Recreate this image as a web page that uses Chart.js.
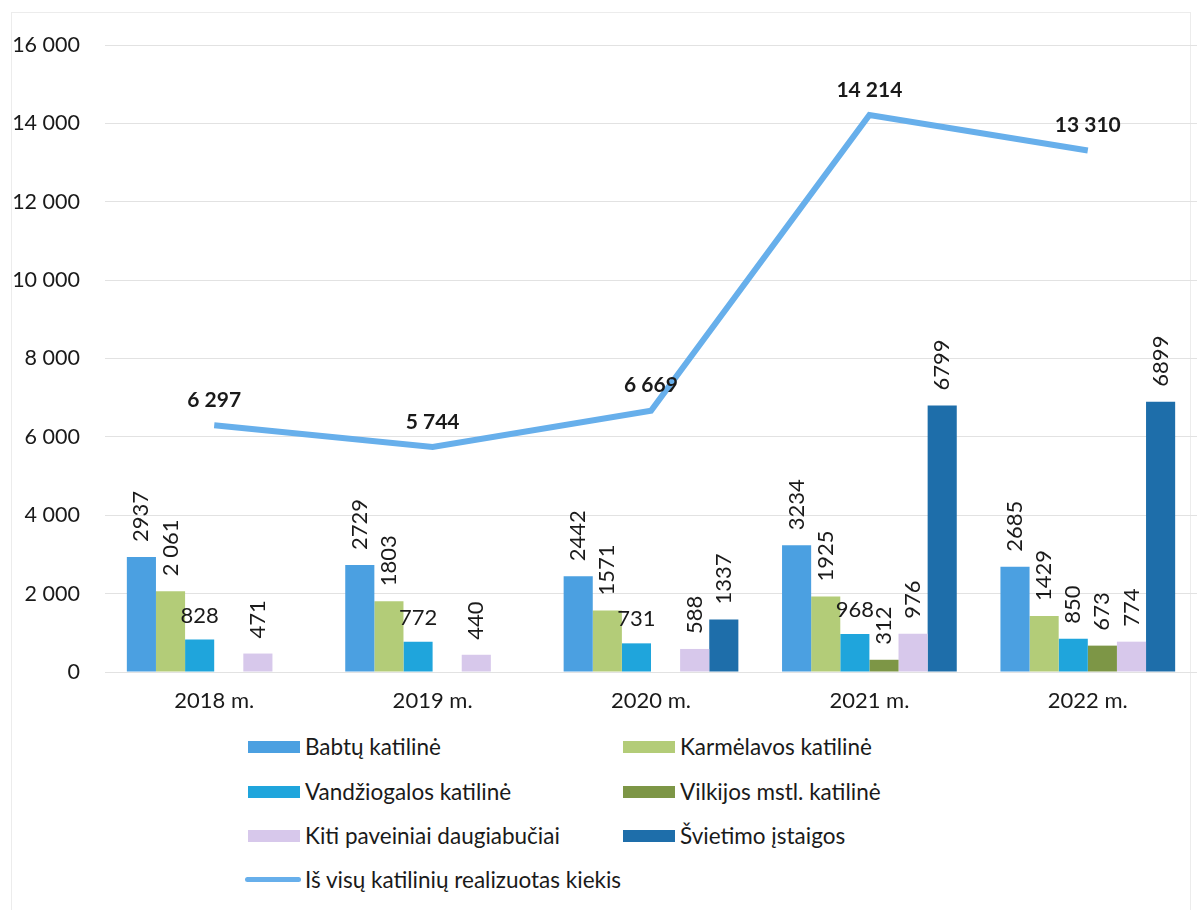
<!DOCTYPE html>
<html lang="lt">
<head>
<meta charset="utf-8">
<script src="https://cdn.jsdelivr.net/npm/chart.js@4/dist/chart.umd.min.js"></script>
<style>
  body { margin: 0; background: #fff; font-family: Lato, "Open Sans", sans-serif; color: #1a1a1a; }
  #wrap { position: relative; width: 1203px; height: 910px; }
  #frame { position: absolute; left: 11px; top: 12px; width: 1178px; height: 900px; border: 1px solid #ececec; border-bottom: none; }
  canvas { position: absolute; left: 0; top: 0; }
  .leg { position: absolute; display: flex; align-items: center; font-size: 22.5px; white-space: nowrap; }
  .leg .box { width: 52px; height: 12px; margin-right: 5px; }
  .leg .ln { width: 56px; height: 5px; border-radius: 3px; margin-right: 4px; }
</style>
</head>
<body>
<div id="wrap">
  <div id="frame"></div>
  <canvas id="chart" width="1203" height="720"></canvas>
  <div id="legend"></div>
</div>
<script>
// ── Data ─────────────────────────────────────────────────────────────────────

const years = ["2018 m.", "2019 m.", "2020 m.", "2021 m.", "2022 m."];

const babtu        = [2937, 2729, 2442, 3234, 2685];
const karmelavos   = [2061, 1803, 1571, 1925, 1429];
const vandziogalos = [828, 772, 731, 968, 850];
const vilkijos     = [null, null, null, 312, 673];
const kiti         = [471, 440, 588, 976, 774];
const svietimo     = [null, null, 1337, 6799, 6899];
const total        = [6297, 5744, 6669, 14214, 13310];

// label text as printed on the chart (only one bar label uses a thousands space)
const karmelavosText = ["2 061", "1803", "1571", "1925", "1429"];

const yTicks = [0, 2000, 4000, 6000, 8000, 10000, 12000, 14000, 16000];

// ── Helpers ──────────────────────────────────────────────────────────────────

const spaced = v => String(v).replace(/\B(?=(\d{3})+(?!\d))/g, " ");
const FONT = "Lato, 'Open Sans', sans-serif";

const barSets = [
  { label: "Babtų katilinė",              data: babtu,        color: "#4ba0e1" },
  { label: "Karmėlavos katilinė",         data: karmelavos,   color: "#b3cc78", text: karmelavosText },
  { label: "Vandžiogalos katilinė",       data: vandziogalos, color: "#1fa5dc", flat: [0, 1, 2, 3] },
  { label: "Vilkijos mstl. katilinė",     data: vilkijos,     color: "#7d9646" },
  { label: "Kiti paveiniai daugiabučiai", data: kiti,         color: "#d7c8eb" },
  { label: "Švietimo įstaigos",           data: svietimo,     color: "#1e6eaa" }
];
const lineSet = { label: "Iš visų katilinių realizuotas kiekis", data: total, color: "#67afeb" };

// ── Data labels (drawn by hand, no datalabels plugin available) ─────────────

const labelPlugin = {
  id: "valueLabels",
  afterDatasetsDraw(chart) {
    const ctx = chart.ctx;
    ctx.save();
    chart.data.datasets.forEach((ds, di) => {
      const meta = chart.getDatasetMeta(di);
      meta.data.forEach((el, i) => {
        const v = ds.data[i];
        if (v == null) return;
        if (ds.type === "line") {
          ctx.font = "bold 21px " + FONT;
          ctx.fillStyle = "#1a1a1a";
          ctx.textAlign = "center";
          ctx.textBaseline = "middle";
          ctx.fillText(spaced(v), el.x, el.y - 25);
          return;
        }
        const txt = ds.labelText ? ds.labelText[i] : String(v);
        ctx.font = "22px " + FONT;
        ctx.fillStyle = "#1a1a1a";
        if (ds.flatLabels && ds.flatLabels.includes(i)) {
          ctx.textAlign = "center";
          ctx.textBaseline = "alphabetic";
          ctx.fillText(txt, el.x, el.y - 17);
        } else {
          ctx.translate(el.x, el.y - 15);
          ctx.rotate(-Math.PI / 2);
          ctx.textAlign = "left";
          ctx.textBaseline = "middle";
          ctx.fillText(txt, 0, 0);
          ctx.setTransform(1, 0, 0, 1, 0, 0);
        }
      });
    });
    ctx.restore();
  }
};

// ── Chart ────────────────────────────────────────────────────────────────────

const datasets = [
  {
    type: "line",
    label: lineSet.label,
    data: lineSet.data,
    borderColor: lineSet.color,
    borderWidth: 6,
    pointRadius: 0,
    tension: 0,
    order: 0
  },
  ...barSets.map(s => ({
    type: "bar",
    label: s.label,
    data: s.data,
    backgroundColor: s.color,
    borderWidth: 0,
    categoryPercentage: 0.8,
    barPercentage: 1.0,
    labelText: s.text,
    flatLabels: s.flat,
    order: 1
  }))
];

new Chart(document.getElementById("chart"), {
  data: { labels: years, datasets },
  options: {
    responsive: false,
    animation: false,
    devicePixelRatio: 1,
    layout: { padding: { top: 45, right: 6, left: 0, bottom: 0 } },
    plugins: { legend: { display: false }, tooltip: { enabled: false } },
    scales: {
      x: {
        grid: { display: false, drawTicks: false },
        border: { display: false },
        ticks: { color: "#1a1a1a", font: { family: FONT, size: 22 }, padding: 16 },
        afterFit: s => { s.height = 48; }
      },
      y: {
        min: 0,
        max: 16000,
        afterBuildTicks: s => { s.ticks = yTicks.map(v => ({ value: v })); },
        grid: { color: "#e2e2e2", lineWidth: 1, drawTicks: false },
        border: { display: false },
        ticks: {
          color: "#1a1a1a",
          font: { family: FONT, size: 21.5 },
          padding: 25,
          callback: v => spaced(v)
        },
        afterFit: s => { s.width = 105; }
      }
    }
  },
  plugins: [labelPlugin]
});

// ── Legend (HTML, two columns like the source) ──────────────────────────────

const legendEl = document.getElementById("legend");
const rowsY = [748, 793, 837, 881];
const colsX = [248, 623];
barSets.forEach((s, i) => {
  const d = document.createElement("div");
  d.className = "leg";
  d.style.left = colsX[i % 2] + "px";
  d.style.top = (rowsY[Math.floor(i / 2)] - 15) + "px";
  d.innerHTML = `<span class="box" style="background:${s.color}"></span>${s.label}`;
  legendEl.appendChild(d);
});
const ld = document.createElement("div");
ld.className = "leg";
ld.style.left = "245px";
ld.style.top = (rowsY[3] - 15) + "px";
ld.innerHTML = `<span class="ln" style="background:${lineSet.color}"></span>${lineSet.label}`;
legendEl.appendChild(ld);
</script>
</body>
</html>
